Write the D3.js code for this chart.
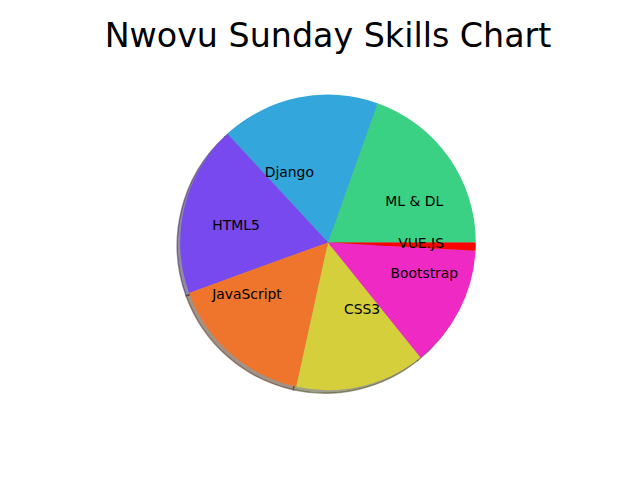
<!DOCTYPE html>
<html>
<head>
<meta charset="utf-8">
<script src="https://cdn.jsdelivr.net/npm/d3@7"></script>
<style>
  html, body { margin: 0; padding: 0; background: #fff; }
  svg { display: block; }
</style>
</head>
<body>
<script>
const title = "Nwovu Sunday Skills Chart";
const skills = ["ML & DL", "Django", "HTML5", "JavaScript", "CSS3", "Bootstrap", "VUE.JS"];
const values = [22, 19.5, 21, 18, 16, 15, 1];
const colors = ["#3bd184", "#33a6dc", "#7849ef", "#ef752c", "#d4cf3a", "#ef2ac4", "#ff0000"];

const W = 640, H = 480;
const cx = 328, cy = 242.4, R = 147.8;
const labelDist = 0.475;

const svg = d3.select("body").append("svg").attr("width", W).attr("height", H);

const data = skills.map((s, i) => ({ skill: s, value: values[i], color: colors[i] }));

// matplotlib: start at 3 o'clock, counterclockwise
const pie = d3.pie().sort(null).value(d => d.value)
  .startAngle(Math.PI / 2).endAngle(Math.PI / 2 - 2 * Math.PI);
const arcs = pie(data);
const arc = d3.arc().innerRadius(0).outerRadius(R);

const g = svg.append("g").attr("transform", `translate(${cx},${cy})`);

// shadows
const shadowOff = 0.02 * R;
const dark = c => { const r = d3.rgb(c); return d3.rgb(r.r * 0.3, r.g * 0.3, r.b * 0.3); };
g.append("g").attr("transform", `translate(${-shadowOff},${shadowOff})`)
  .selectAll("path").data(arcs).join("path")
  .attr("d", arc)
  .attr("fill", d => dark(d.data.color))
  .attr("fill-opacity", 0.5)
  .attr("stroke", d => dark(d.data.color))
  .attr("stroke-opacity", 0.5)
  .attr("stroke-width", 1.39);

// wedges
g.append("g").selectAll("path").data(arcs).join("path")
  .attr("d", arc)
  .attr("fill", d => d.data.color);

// labels
g.append("g").selectAll("text").data(arcs).join("text")
  .each(function(d) {
    const a = (d.startAngle + d.endAngle) / 2;
    const x = Math.sin(a) * R * labelDist;
    const y = -Math.cos(a) * R * labelDist;
    d3.select(this)
      .attr("x", x).attr("y", y)
      .attr("text-anchor", x < 0 ? "end" : "start");
  })
  .attr("dy", "0.26em")
  .attr("font-family", "DejaVu Sans, sans-serif")
  .attr("font-size", "13.9px")
  .attr("fill", "#000")
  .text(d => d.data.skill);

// title
svg.append("text")
  .attr("x", cx).attr("y", 46.5)
  .attr("text-anchor", "middle")
  .attr("font-family", "DejaVu Sans, sans-serif")
  .attr("font-size", "33.3px")
  .attr("fill", "#000")
  .text(title);
</script>
</body>
</html>
